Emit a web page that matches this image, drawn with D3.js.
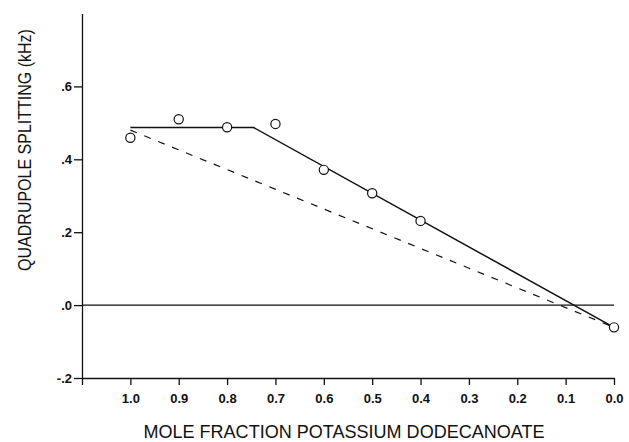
<!DOCTYPE html>
<html>
<head>
<meta charset="utf-8">
<script src="https://cdn.jsdelivr.net/npm/d3@7"></script>
<style>
  body { margin: 0; background: #fff; }
  svg { display: block; }
  .tick text { font-family: "Liberation Sans", Arial, sans-serif; font-weight: bold; }
</style>
</head>
<body>
<svg id="chart" width="629" height="442"></svg>
<script>
// measured points: mole fraction vs splitting (kHz)
var fractions = [1.0, 0.9, 0.8, 0.7, 0.6, 0.5, 0.4, 0.0];
var splittings = [0.459, 0.510, 0.488, 0.497, 0.371, 0.307, 0.231, -0.061];

// fitted solid line and dashed ideal-mixing line
var solidX = [1.0, 0.745, 0.0];
var solidY = [0.487, 0.487, -0.061];
var dashX = [1.0, 0.0];
var dashY = [0.48, -0.061];

var xTicks = [1.1, 1.0, 0.9, 0.8, 0.7, 0.6, 0.5, 0.4, 0.3, 0.2, 0.1, 0.0];
var xTickLabels = ["", "1.0", "0.9", "0.8", "0.7", "0.6", "0.5", "0.4", "0.3", "0.2", "0.1", "0.0"];
var yTicks = [-0.2, 0.0, 0.2, 0.4, 0.6];
var yTickLabels = ["-.2", ".0", ".2", ".4", ".6"];

var svg = d3.select("#chart");

var xScale = d3.scaleLinear().domain([1.1, 0.0]).range([82, 614]);
var yScale = d3.scaleLinear().domain([-0.2, 0.8]).range([378, 13.5]);

var xAxis = d3.axisBottom(xScale)
    .tickValues(xTicks)
    .tickSize(7)
    .tickSizeOuter(0)
    .tickPadding(9)
    .tickFormat((d, i) => xTickLabels[i]);

var yAxis = d3.axisLeft(yScale)
    .tickValues(yTicks)
    .tickSize(8)
    .tickSizeOuter(0)
    .tickPadding(2)
    .tickFormat((d, i) => yTickLabels[i]);

var gx = svg.append("g")
    .attr("transform", "translate(0," + yScale(-0.2) + ")")
    .call(xAxis);
gx.selectAll("text").attr("font-size", 13).attr("fill", "#111");

var gy = svg.append("g")
    .attr("transform", "translate(" + xScale(1.1) + ",0)")
    .call(yAxis);
gy.selectAll("text").attr("font-size", 13).attr("fill", "#111");

svg.selectAll(".domain, .tick line").attr("stroke", "#111").attr("stroke-width", 1.3);

// zero line
svg.append("line")
    .attr("x1", xScale(1.1))
    .attr("x2", xScale(0.0))
    .attr("y1", yScale(0))
    .attr("y2", yScale(0))
    .attr("stroke", "#111")
    .attr("stroke-width", 1.3);

var line = d3.line()
    .x(d => xScale(d[0]))
    .y(d => yScale(d[1]));

svg.append("path")
    .datum(dashX.map((v, i) => [v, dashY[i]]))
    .attr("d", line)
    .attr("fill", "none")
    .attr("stroke", "#111")
    .attr("stroke-width", 1.2)
    .attr("stroke-dasharray", "7,8");

svg.append("path")
    .datum(solidX.map((v, i) => [v, solidY[i]]))
    .attr("d", line)
    .attr("fill", "none")
    .attr("stroke", "#111")
    .attr("stroke-width", 1.5);

svg.selectAll("circle.pt")
    .data(fractions.map((v, i) => ({x: v, y: splittings[i]})))
    .enter()
    .append("circle")
    .attr("class", "pt")
    .attr("cx", d => xScale(d.x))
    .attr("cy", d => yScale(d.y))
    .attr("r", 4.6)
    .attr("fill", "#fff")
    .attr("stroke", "#111")
    .attr("stroke-width", 1.2);

// axis titles, squeezed a little horizontally like the original lettering
svg.append("text")
    .attr("transform", "translate(344,438) scale(0.95,1)")
    .attr("text-anchor", "middle")
    .attr("font-family", "Liberation Sans, Arial, sans-serif")
    .attr("font-size", 19)
    .attr("fill", "#111")
    .text("MOLE FRACTION POTASSIUM DODECANOATE");

svg.append("text")
    .attr("transform", "translate(31,150) rotate(-90) scale(0.89,1)")
    .attr("text-anchor", "middle")
    .attr("font-family", "Liberation Sans, Arial, sans-serif")
    .attr("font-size", 18)
    .attr("fill", "#111")
    .text("QUADRUPOLE SPLITTING (kHz)");
</script>
</body>
</html>
